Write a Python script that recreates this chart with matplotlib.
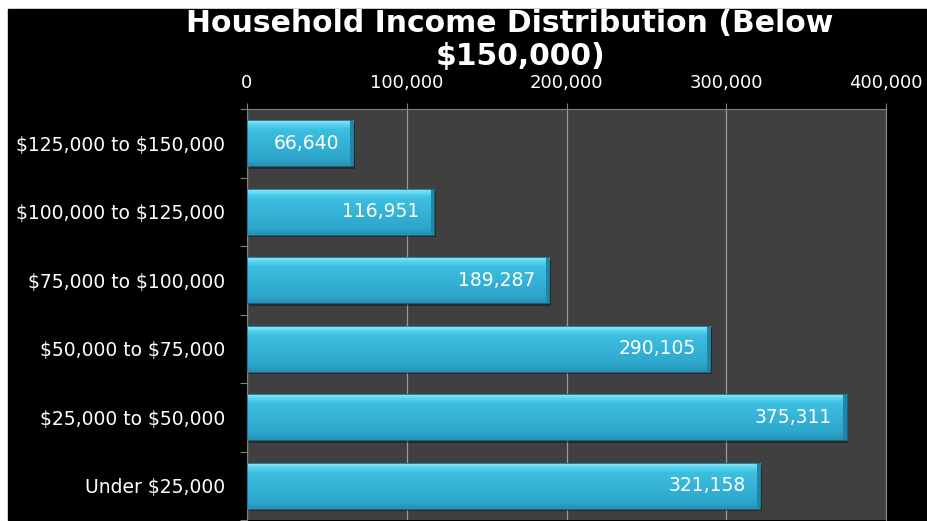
import matplotlib.pyplot as plt
import numpy as np
from matplotlib.patches import Rectangle

# data, bottom row first
categories = ['Under \\$25,000', '\\$25,000 to \\$50,000', '\\$50,000 to \\$75,000',
              '\\$75,000 to \\$100,000', '\\$100,000 to \\$125,000', '\\$125,000 to \\$150,000']
households = [321158, 375311, 290105, 189287, 116951, 66640]
xticks = [0, 100000, 200000, 300000, 400000]

W, H = 927, 521
fig = plt.figure(figsize=(W / 100, H / 100), dpi=100, facecolor='white')
# black slide background (white margin left/top/bottom like the screenshot)
fig.patches.append(Rectangle((8 / W, 1 / H), 1 - 8 / W, (520 - 9) / H,
                             transform=fig.transFigure, color='black', zorder=-10))

ax = fig.add_axes([247 / W, 1 / H, (886 - 247) / W, (520 - 109) / H])
ax.set_facecolor('#404040')

y = np.arange(len(categories))
bh = 0.67

# gradient for the bars (darker bottom -> light top)
grad = np.linspace(0, 1, 64).reshape(-1, 1)
cmap = plt.matplotlib.colors.LinearSegmentedColormap.from_list(
    'bar', [(0, '#2590b4'), (0.15, '#2ea6cc'), (0.8, '#3cbfe0'), (0.9, '#55d2ee'), (1, '#8ce8f8')])

# drop shadow
ax.barh(y - 0.035, households, height=bh, left=1200, color='black', alpha=0.35, zorder=2)
for yi, v in zip(y, households):
    ax.imshow(grad, extent=[0, v, yi - bh / 2, yi + bh / 2], origin='lower',
              cmap=cmap, aspect='auto', zorder=3, interpolation='bilinear')
    # darker right bevel
    ax.add_patch(Rectangle((v - 2000, yi - bh / 2), 2000, bh, color='#1f88aa', zorder=4, lw=0))
ax.barh(y, households, height=bh, fill=False, edgecolor='#1c6f8c', lw=0.6, zorder=5)
ax.set_aspect('auto')
ax.set_xlim(0, 400000)
ax.set_ylim(-0.371, len(categories) - 0.5)

for yi, v in zip(y, households):
    ax.text(v - 9000, yi, f'{v:,}', ha='right', va='center', color='white',
            fontsize=13.5, zorder=6)

ax.xaxis.tick_top()
ax.set_xticks(xticks)
ax.set_xticklabels([f'{t:,}' for t in xticks], color='white', fontsize=13)
ax.grid(axis='x', color='#9a9a9a', lw=0.9, zorder=1)
ax.set_axisbelow(True)
ax.tick_params(axis='x', length=4, color='#808080', pad=8)

ax.set_yticks(np.arange(-0.5, len(categories) - 0.5 + 0.01, 1), minor=False)
ax.set_yticklabels([])
ax.set_yticks(y, minor=True)
ax.set_yticklabels(categories, minor=True, color='white', fontsize=13.5)
ax.tick_params(axis='y', which='major', length=5, color='#808080', direction='out')
ax.tick_params(axis='y', which='minor', length=0, pad=16)

for side in ['left', 'top', 'right']:
    ax.spines[side].set_color('#808080')
ax.spines['bottom'].set_visible(False)

fig.text(510 / W, 1 - 23 / H, 'Household Income Distribution (Below', ha='center',
         va='center', color='white', fontsize=21.5, fontweight='bold')
fig.text(520 / W, 1 - 57 / H, '$150,000)', ha='center', va='center', color='white',
         fontsize=21.5, fontweight='bold')

fig.savefig('out.png', dpi=100, facecolor='white')
